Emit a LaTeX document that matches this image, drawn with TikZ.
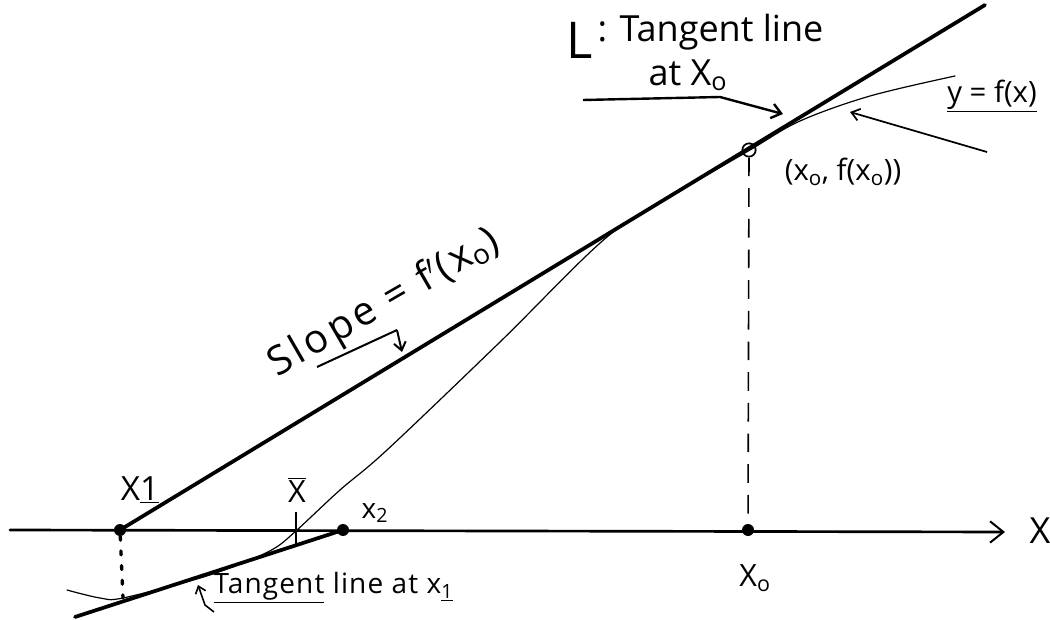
\documentclass[tikz,border=0pt]{standalone}
\usepackage{fontspec}
\setmainfont{Open Sans}
\usetikzlibrary{arrows.meta}
\begin{document}
\begin{tikzpicture}[x=0.75pt,y=-0.75pt,
  thickline/.style={line width=2.8pt,line cap=round},
  axisline/.style={line width=2pt,line cap=round},
  thinline/.style={line width=0.9pt,line cap=round},
  pointer/.style={line width=1.5pt,-{Straight Barb[length=6pt,width=9pt]}},
  lbl/.style={inner sep=1pt,font=\fontsize{21}{23}\selectfont},
  bigl/.style={inner sep=1pt,font=\fontsize{27}{29}\selectfont},
  dot/.style={circle,fill=black,inner sep=0pt,minimum size=9pt}]
\useasboundingbox (0,0) rectangle (1050,620);
% coordinates
\coordinate (axL) at (10,530);
\coordinate (axR) at (1005,532);
\coordinate (Lbot) at (120,530);
\coordinate (Ltop) at (985,5);
\coordinate (Tbot) at (75,617);
\coordinate (P0) at (749,150);
% axis
\draw[axisline,-{Straight Barb[length=10pt,width=16pt,line width=1.5pt]}] (axL) -- (axR);
\node[font=\fontsize{27}{29}\selectfont] (Xlab) at (1040,531) {X};
% tangent line L
\draw[thickline] (Lbot) -- (Ltop);
% tangent line at x1
\node[dot] (x2) at (343,530) {};
\draw[thickline] (Tbot) -- (x2.center);
% curve y=f(x)
\draw[thinline] plot[smooth,tension=0.55] coordinates {(67,590) (100,598) (123,598) (200,578) (245,562) (275,548) (297,530) (340,490) (387,450) (500,342) (607,237) (680,191) (750,150) (800,121) (870,96) (955,76)};
% points
\node[dot] (x1) at (120,530) {};
\node[dot] (x0) at (748,530) {};
\node[circle,draw,line width=1.3pt,inner sep=0pt,minimum size=10pt] (p0) at (P0) {};
\coordinate (x1low) at (123,598);
\draw[line width=2.5pt,dash pattern=on 3pt off 8pt,line cap=round] (x1) -- (x1low);
\draw[line width=1.2pt,dash pattern=on 14pt off 9pt] (p0) -- (x0);
% xbar tick
\coordinate (tb1) at (296,512);
\coordinate (tb2) at (296,544);
\draw[line width=1.2pt] (tb1) -- (tb2);
% labels
\node[lbl,font=\fontsize{25}{27}\selectfont] (X1lab) at (140,490) {X\underline{\smash{1}}};
\node[lbl,font=\fontsize{23}{25}\selectfont] (xbar) at (297,490) {$\overline{\mbox{X}}$};
\node[lbl] (x2lab) at (375,513) {x\textsubscript{2}};
\node[lbl,font=\fontsize{23}{25}\selectfont] (x0lab) at (755,578) {X\textsubscript{o}};
\node[lbl,anchor=west] (tanx1) at (212,588) {\addfontfeatures{LetterSpace=4}\underline{Tangent} line at x\textsubscript{\underline{1}}};
\coordinate (h1) at (214,612);
\coordinate (h2) at (205,605);
\draw[line width=1.2pt,-{Straight Barb[length=5pt,width=8pt]}] (h1) -- (h2) -- (198,585);
% slope label
\node[inner sep=1pt,font=\fontsize{30}{32}\selectfont,rotate=30] (slope) at (384,304) {\addfontfeatures{LetterSpace=10}Slope = f$'$(x\textsubscript{o})};
\coordinate (s1) at (317,367);
\coordinate (s2) at (397,330);
\coordinate (s3) at (402,352);
\draw[line width=1.5pt] (s1) -- (s2);
\draw[pointer] (s2) -- (s3);
% L label
\node[font=\fontsize{38}{40}\selectfont,inner sep=0pt] (Llab) at (580,40) {L};
\node[bigl,anchor=west] (Ltext) at (596,32) {: Tangent line};
\node[bigl] (atx0) at (688,75) {at X\textsubscript{o}};
\coordinate (a1) at (583,100);
\coordinate (a2) at (720,97);
\coordinate (a3) at (783,114);
\draw[line width=1.8pt,-{Straight Barb[length=7pt,width=11pt]}] (a1) -- (a2) -- (a3);
% point label
\node[lbl,font=\fontsize{22}{24}\selectfont] (p0lab) at (843,172) {(x\textsubscript{o}, f(x\textsubscript{o}))};
% y=f(x)
\node[lbl,font=\fontsize{22}{24}\selectfont] (fx) at (992,96) {\underline{y = f(x)}};
\coordinate (f1) at (987,152);
\coordinate (f2) at (850,112);
\draw[line width=1.3pt,-{Straight Barb[length=6pt,width=9pt]}] (f1) -- (f2);
\end{tikzpicture}
\end{document}
